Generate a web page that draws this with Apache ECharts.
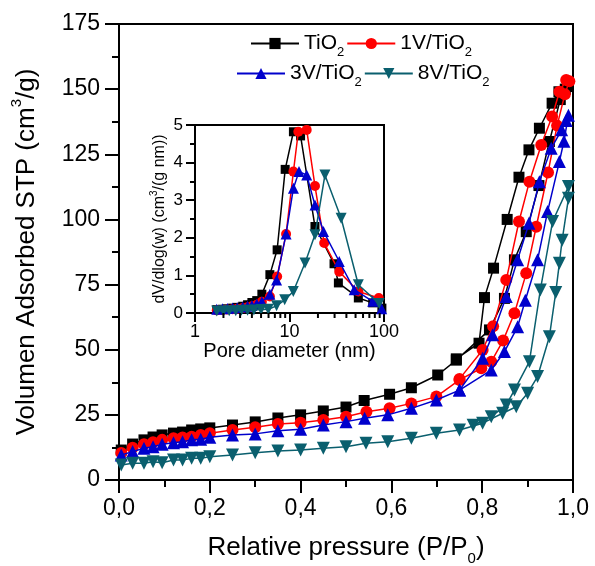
<!DOCTYPE html>
<html>
<head>
<meta charset="utf-8">
<script src="https://cdn.jsdelivr.net/npm/echarts@6.0.0/dist/echarts.min.js"></script>
<style>
  html, body { margin: 0; padding: 0; background: #fff; }
  #chart { width: 595px; height: 566px; }
</style>
</head>
<body>
<div id="chart"></div>
<script>
// ---- N2 isotherms: relative pressure (P/P0) vs adsorbed volume (cm3/g STP) ----
// adsorption branch (rising pressure), then desorption branch (falling pressure)
const tio2AdsP = [0.005, 0.03, 0.055, 0.075, 0.095, 0.12, 0.14, 0.16, 0.18, 0.20, 0.25, 0.30, 0.35, 0.40, 0.45, 0.50, 0.54, 0.596, 0.644, 0.702, 0.743, 0.816, 0.849, 0.871, 0.897, 0.925, 0.948, 0.972, 0.99];
const tio2AdsV = [11.5, 13.8, 15.4, 16.5, 17.3, 18.0, 18.4, 19.2, 19.6, 20.0, 21.1, 22.3, 23.8, 25.0, 26.5, 28.0, 30.5, 32.9, 35.4, 40.3, 46.0, 57.6, 69.7, 84.5, 95.3, 113, 129.9, 146, 151];
const tio2DesP = [0.983, 0.969, 0.954, 0.926, 0.903, 0.881, 0.855, 0.825, 0.805, 0.793, 0.743];
const tio2DesV = [150, 149, 144.6, 135, 126.7, 116.2, 100, 81.3, 70, 52.5, 46.5];

const v1AdsP = [0.005, 0.03, 0.055, 0.075, 0.095, 0.12, 0.14, 0.16, 0.18, 0.20, 0.25, 0.30, 0.35, 0.40, 0.45, 0.50, 0.545, 0.596, 0.644, 0.699, 0.75, 0.798, 0.82, 0.846, 0.871, 0.897, 0.919, 0.945, 0.965, 0.982, 0.992];
const v1AdsV = [10.4, 12.4, 13.7, 14.5, 15.4, 16.0, 16.3, 16.6, 17.3, 17.9, 19.2, 20.2, 21.5, 22.0, 23.0, 24.3, 26.2, 27.5, 29.4, 32.0, 38.4, 42.9, 45.4, 53.5, 64.0, 79.3, 97.2, 118, 136, 148, 153];
const v1DesP = [0.985, 0.97, 0.954, 0.93, 0.904, 0.881, 0.853, 0.824, 0.801, 0.75];
const v1DesV = [153.5, 149, 139.5, 128.6, 114.5, 99.2, 76.8, 59, 49.9, 38.8];

const v3AdsP = [0.005, 0.03, 0.055, 0.075, 0.095, 0.12, 0.14, 0.16, 0.18, 0.20, 0.25, 0.30, 0.35, 0.40, 0.45, 0.50, 0.541, 0.592, 0.644, 0.699, 0.75, 0.82, 0.849, 0.878, 0.895, 0.922, 0.944, 0.97, 0.98, 0.99];
const v3AdsV = [9.6, 10.9, 12.2, 12.8, 13.7, 14.3, 14.7, 15.4, 15.6, 16.4, 17.3, 17.7, 18.9, 19.5, 21.1, 22.4, 23.7, 25.0, 27.5, 30.7, 34.5, 42.2, 49.3, 58.8, 69, 84.5, 103, 122.2, 130, 140];
const v3DesP = [0.985, 0.975, 0.952, 0.926, 0.903, 0.878, 0.853, 0.823, 0.801, 0.75];
const v3DesV = [138, 134.4, 127.3, 114.5, 98.5, 84.5, 70.4, 55.7, 46.7, 34.5];

const v8AdsP = [0.005, 0.03, 0.055, 0.075, 0.095, 0.12, 0.14, 0.16, 0.18, 0.20, 0.25, 0.30, 0.35, 0.40, 0.45, 0.50, 0.544, 0.592, 0.644, 0.699, 0.75, 0.801, 0.845, 0.875, 0.90, 0.922, 0.948, 0.962, 0.97, 0.976, 0.99];
const v8AdsV = [5.8, 6.4, 6.4, 7.0, 6.6, 7.7, 7.7, 8.3, 8.3, 8.9, 9.6, 10.5, 11.1, 11.5, 12.2, 12.8, 14.1, 14.7, 16.0, 17.9, 19.2, 21.8, 25.6, 28.1, 33.3, 39.7, 55, 72, 83.2, 92, 108.1];
const v8DesP = [0.99, 0.955, 0.928, 0.904, 0.871, 0.853, 0.82, 0.78];
const v8DesV = [112.6, 99.2, 72.9, 45.4, 34.5, 28.8, 24.3, 21.0];

// ---- pore size distribution (inset): pore diameter (nm) vs dV/dlog(w) ----
const tio2PoreD = [1.7, 1.95, 2.2, 2.5, 2.8, 3.2, 3.6, 4.0, 4.5, 5.1, 6.2, 7.4, 9.0, 11.0, 13.1, 18.6, 29.6, 32.9, 53.5, 76, 95];
const tio2PoreV = [0.09, 0.10, 0.11, 0.13, 0.15, 0.18, 0.22, 0.28, 0.33, 0.5, 1.02, 1.68, 3.82, 4.82, 4.71, 2.30, 1.31, 0.80, 0.40, 0.27, 0.13];
const v1PoreD = [1.7, 1.95, 2.2, 2.5, 2.8, 3.2, 3.6, 4.0, 4.5, 5.1, 6.2, 7.4, 9.2, 11.0, 12.4, 15.2, 18.6, 23.3, 33.6, 53.5, 88];
const v1PoreV = [0.07, 0.08, 0.09, 0.10, 0.11, 0.13, 0.15, 0.18, 0.22, 0.30, 0.44, 0.97, 2.1, 3.76, 4.82, 4.87, 3.38, 1.86, 1.10, 0.57, 0.40];
const v3PoreD = [1.7, 1.95, 2.2, 2.5, 2.8, 3.2, 3.6, 4.0, 4.5, 5.1, 6.2, 7.3, 9.2, 11.0, 12.6, 15.2, 18.6, 22.9, 33.6, 48.4, 75.9, 94.6];
const v3PoreV = [0.10, 0.11, 0.12, 0.13, 0.14, 0.16, 0.18, 0.20, 0.24, 0.30, 0.50, 0.88, 2.1, 3.32, 3.76, 3.67, 2.87, 2.17, 1.37, 0.62, 0.31, 0.11];
const v8PoreD = [1.7, 2.0, 2.3, 2.7, 3.1, 3.6, 4.2, 5.0, 5.96, 7.3, 8.9, 10.97, 14.6, 18.6, 23.7, 35.2, 53.5, 89];
const v8PoreV = [0.05, 0.05, 0.06, 0.06, 0.07, 0.07, 0.08, 0.09, 0.10, 0.19, 0.35, 0.57, 1.33, 2.08, 3.67, 2.52, 0.75, 0.25];

// ---- labels ----
const seriesNames = ['TiO2', '1V/TiO2', '3V/TiO2', '8V/TiO2'];
const xTickLabels = ['0,0', '0,2', '0,4', '0,6', '0,8', '1,0'];
const yTickLabels = ['0', '25', '50', '75', '100', '125', '150', '175'];
const insetYTickLabels = ['0', '1', '2', '3', '4', '5'];
const insetMinorTicks = [2, 3, 4, 5, 6, 7, 8, 9, 20, 30, 40, 50, 60, 70, 80, 90];

const FONT = '"Liberation Sans", Arial, sans-serif';
const colors = ['#000000', '#ff0000', '#0000cc', '#0a5f6e'];
const mainSymbols = [
  { symbol: 'rect', size: 11, rotate: 0 },
  { symbol: 'circle', size: 12, rotate: 0 },
  { symbol: 'triangle', size: 13, rotate: 0 },
  { symbol: 'triangle', size: 13, rotate: 180 }
];

function zip(xs, ys) { return xs.map((x, i) => [x, ys[i]]); }
function loop(ap, av, dp, dv) { return zip(ap, av).concat(zip(dp, dv)); }

const isotherms = [
  loop(tio2AdsP, tio2AdsV, tio2DesP, tio2DesV),
  loop(v1AdsP, v1AdsV, v1DesP, v1DesV),
  loop(v3AdsP, v3AdsV, v3DesP, v3DesV),
  loop(v8AdsP, v8AdsV, v8DesP, v8DesV)
];
const poreDist = [
  zip(tio2PoreD, tio2PoreV),
  zip(v1PoreD, v1PoreV),
  zip(v3PoreD, v3PoreV),
  zip(v8PoreD, v8PoreV)
];

const chart = echarts.init(document.getElementById('chart'), null, { renderer: 'canvas' });

const black = '#000';
const axisLineStyle = { show: true, lineStyle: { color: black, width: 2 } };

const series = [];
isotherms.forEach((d, i) => {
  series.push({
    type: 'line', name: seriesNames[i], xAxisIndex: 0, yAxisIndex: 0,
    data: d, symbol: mainSymbols[i].symbol, symbolSize: mainSymbols[i].size,
    symbolRotate: mainSymbols[i].rotate, showAllSymbol: true,
    itemStyle: { color: colors[i] }, lineStyle: { color: colors[i], width: 1.5 },
    z: 2 + i, silent: true
  });
});
poreDist.forEach((d, i) => {
  series.push({
    type: 'line', name: seriesNames[i], xAxisIndex: 1, yAxisIndex: 1,
    data: d, symbol: mainSymbols[i].symbol, symbolSize: mainSymbols[i].size - 2,
    symbolRotate: mainSymbols[i].rotate, showAllSymbol: true,
    itemStyle: { color: colors[i] }, lineStyle: { color: colors[i], width: 1.5 },
    z: 2 + i, silent: true
  });
});
// minor ticks of the logarithmic pore-diameter axis
series.push({
  type: 'custom', name: 'minorTicks', xAxisIndex: 1, yAxisIndex: 1, silent: true, clip: false,
  data: insetMinorTicks.map(v => [v, 0]),
  renderItem: function (params, api) {
    const p = api.coord([api.value(0), 0]);
    return { type: 'line', shape: { x1: p[0], y1: p[1], x2: p[0], y2: p[1] + 5 }, style: { stroke: black, lineWidth: 2 } };
  },
  z: 10
});

const subRich = { fontSize: 15, lineHeight: 36, verticalAlign: 'bottom', fontFamily: FONT, color: black };
const supRich = { fontSize: 15, lineHeight: 36, verticalAlign: 'top', fontFamily: FONT, color: black };

const legendCommon = {
  orient: 'horizontal', itemWidth: 48, itemHeight: 14, itemGap: 2, padding: 0,
  selectedMode: false,
  formatter: name => name.replace('O2', 'O{sub|2}'),
  textStyle: {
    fontSize: 21, color: black, fontFamily: FONT,
    rich: { sub: { fontSize: 13, lineHeight: 30, verticalAlign: 'bottom', fontFamily: FONT, color: black } }
  }
};

const option = {
  animation: false,
  backgroundColor: '#fff',
  textStyle: { fontFamily: FONT },
  legend: [
    Object.assign({ data: [seriesNames[0], seriesNames[1]], left: 250, top: 33 }, legendCommon),
    Object.assign({ data: [seriesNames[2], seriesNames[3]], left: 236, top: 63 }, legendCommon)
  ],
  grid: [
    { left: 119, top: 24, width: 454, height: 456, show: true, borderColor: black, borderWidth: 2, backgroundColor: 'transparent', containLabel: false, outerBoundsMode: 'none' },
    { left: 195, top: 125, width: 189, height: 188, show: true, borderColor: black, borderWidth: 2, backgroundColor: 'transparent', containLabel: false, outerBoundsMode: 'none' }
  ],
  xAxis: [
    {
      type: 'value', gridIndex: 0, min: 0, max: 1, interval: 0.2,
      axisLine: axisLineStyle,
      axisTick: { show: true, inside: false, length: 13, lineStyle: { color: black, width: 2 } },
      minorTick: { show: true, splitNumber: 2, length: 7, lineStyle: { color: black, width: 2 } },
      splitLine: { show: false }, minorSplitLine: { show: false },
      axisLabel: {
        fontSize: 23, color: black, fontFamily: FONT, margin: 17, hideOverlap: false,
        showMinLabel: true, showMaxLabel: true,
        formatter: v => xTickLabels[Math.round(v / 0.2)]
      },
      name: 'Relative pressure (P/P{sub|0})', nameLocation: 'middle', nameGap: 50,
      nameTextStyle: { fontSize: 26, color: black, fontFamily: FONT, rich: { sub: subRich } }
    },
    {
      type: 'log', logBase: 10, gridIndex: 1, min: 1, max: 100,
      axisLine: axisLineStyle,
      axisTick: { show: true, inside: false, length: 9, lineStyle: { color: black, width: 2 } },
      splitLine: { show: false },
      axisLabel: { fontSize: 18, color: black, fontFamily: FONT, margin: 10, hideOverlap: false, showMinLabel: true, showMaxLabel: true },
      name: 'Pore diameter (nm)', nameLocation: 'middle', nameGap: 28,
      nameTextStyle: { fontSize: 20, color: black, fontFamily: FONT }
    }
  ],
  yAxis: [
    {
      type: 'value', gridIndex: 0, min: 0, max: 175, interval: 25,
      axisLine: axisLineStyle,
      axisTick: { show: true, inside: false, length: 14, lineStyle: { color: black, width: 2 } },
      minorTick: { show: true, splitNumber: 2, length: 7, lineStyle: { color: black, width: 2 } },
      splitLine: { show: false }, minorSplitLine: { show: false },
      axisLabel: {
        fontSize: 23, color: black, fontFamily: FONT, margin: 19, hideOverlap: false,
        showMinLabel: true, showMaxLabel: true,
        formatter: v => yTickLabels[Math.round(v / 25)]
      },
      name: 'Volumen Adsorbed STP (cm{sup|3}/g)', nameLocation: 'middle', nameGap: 74, nameRotate: 90,
      nameTextStyle: { fontSize: 26, color: black, fontFamily: FONT, rich: { sup: supRich } }
    },
    {
      type: 'value', gridIndex: 1, min: 0, max: 5, interval: 1,
      axisLine: axisLineStyle,
      axisTick: { show: true, inside: false, length: 9, lineStyle: { color: black, width: 2 } },
      minorTick: { show: true, splitNumber: 2, length: 5, lineStyle: { color: black, width: 2 } },
      splitLine: { show: false }, minorSplitLine: { show: false },
      axisLabel: {
        fontSize: 17, color: black, fontFamily: FONT, margin: 12, hideOverlap: false,
        showMinLabel: true, showMaxLabel: true,
        formatter: v => insetYTickLabels[Math.round(v)]
      },
      name: 'dV/dlog(w) (cm{sup|3}/(g nm))', nameLocation: 'middle', nameGap: 24, nameRotate: 90,
      nameTextStyle: { fontSize: 16, color: black, fontFamily: FONT, rich: { sup: { fontSize: 10, lineHeight: 22, verticalAlign: 'top', fontFamily: FONT, color: black } } }
    }
  ],
  series: series
};

chart.setOption(option);
</script>
</body>
</html>
